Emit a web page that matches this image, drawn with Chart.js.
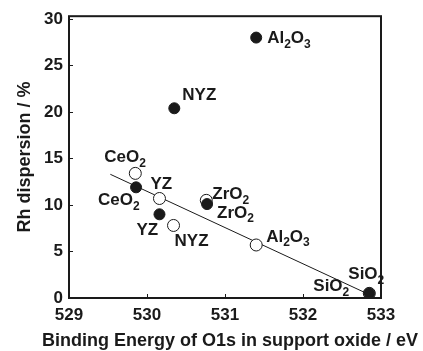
<!DOCTYPE html>
<html>
<head>
<meta charset="utf-8">
<script src="https://cdn.jsdelivr.net/npm/chart.js@4/dist/chart.umd.min.js"></script>
<style>
html,body{margin:0;padding:0;background:#fff}
#wrap{width:423px;height:351px}
</style>
</head>
<body>
<div id="wrap"><canvas id="myChart"></canvas></div>
<script>
// data
var xTicks = [529, 530, 531, 532, 533];
var yTicks = [0, 5, 10, 15, 20, 25, 30];
var xTitle = 'Binding Energy of O1s in support oxide / eV';
var yTitle = 'Rh dispersion / %';

var filledNames = ['Al2O3', 'NYZ', 'CeO2', 'YZ', 'ZrO2', 'SiO2'];
var filledX = [531.40, 530.35, 529.86, 530.16, 530.77, 532.85];
var filledY = [28.0, 20.4, 11.9, 9.0, 10.1, 0.5];

var openNames = ['CeO2', 'YZ', 'ZrO2', 'NYZ', 'Al2O3', 'SiO2'];
var openX = [529.85, 530.16, 530.76, 530.34, 531.40, 532.85];
var openY = [13.4, 10.7, 10.5, 7.8, 5.7, 0.5];

var fitX = [529.53, 532.80];
var fitY = [13.3, 0.56];

// label offsets from each marker (px)
var filledLabelPos = [[11, 1], [8, -13], [-38, 13], [-23, 16], [10, 9], [-21, -19]];
var openLabelPos = [[-31, -16], [-9, -14], [6, -6], [1, 16], [10, -8], [-56, -7]];

var ink = '#1a1a1a';
var fontFam = '"Liberation Sans", Arial, sans-serif';

function pts(xs, ys) {
  return xs.map(function (x, i) { return {x: x, y: ys[i]}; });
}

// draw a formula like Al2O3 with subscript digits
function drawChem(ctx, s, x, y) {
  ctx.textAlign = 'left';
  ctx.textBaseline = 'middle';
  for (var i = 0; i < s.length; i++) {
    var c = s[i];
    if (/[0-9]/.test(c)) {
      ctx.font = 'bold 12px ' + fontFam;
      ctx.fillText(c, x, y + 6);
    } else {
      ctx.font = 'bold 17px ' + fontFam;
      ctx.fillText(c, x, y);
    }
    x += ctx.measureText(c).width;
  }
}

var labelPlugin = {
  id: 'labels',
  afterDatasetsDraw: function (chart) {
    var ctx = chart.ctx;
    ctx.save();
    ctx.fillStyle = ink;
    [[0, filledNames, filledLabelPos], [1, openNames, openLabelPos]].forEach(function (set) {
      var meta = chart.getDatasetMeta(set[0]);
      meta.data.forEach(function (el, i) {
        drawChem(ctx, set[1][i], el.x + set[2][i][0], el.y + set[2][i][1]);
      });
    });
    ctx.restore();
  }
};

var framePlugin = {
  id: 'frame',
  afterDraw: function (chart) {
    var ctx = chart.ctx, a = chart.chartArea;
    var xs = chart.scales.x, ys = chart.scales.y;
    ctx.save();
    ctx.strokeStyle = ink;
    ctx.lineWidth = 1;
    ctx.beginPath();
    xTicks.forEach(function (v) {
      var px = Math.round(xs.getPixelForValue(v)) + 0.5;
      ctx.moveTo(px, a.bottom);
      ctx.lineTo(px, a.bottom - 4);
    });
    yTicks.forEach(function (v) {
      var py = Math.round(ys.getPixelForValue(v)) + 0.5;
      ctx.moveTo(a.left, py);
      ctx.lineTo(a.left + 4, py);
    });
    ctx.stroke();
    ctx.lineWidth = 2;
    ctx.strokeRect(a.left, a.top, a.right - a.left, a.bottom - a.top);
    // x title is wider than the plot area, so draw it here without squeezing
    ctx.fillStyle = ink;
    ctx.font = 'bold 18px ' + fontFam;
    ctx.textAlign = 'center';
    ctx.textBaseline = 'middle';
    ctx.fillText(xTitle, 230, 341);
    ctx.restore();
  }
};

var tickFont = {family: fontFam, size: 17, weight: 'bold'};

new Chart(document.getElementById('myChart'), {
  type: 'scatter',
  data: {
    datasets: [
      {
        label: 'filled',
        data: pts(filledX, filledY),
        pointRadius: 5.5,
        pointBackgroundColor: ink,
        pointBorderColor: ink,
        pointBorderWidth: 1,
        order: 0
      },
      {
        label: 'open',
        data: pts(openX, openY),
        pointRadius: 6,
        pointBackgroundColor: '#fff',
        pointBorderColor: ink,
        pointBorderWidth: 1,
        order: 1
      },
      {
        type: 'line',
        label: 'fit',
        data: pts(fitX, fitY),
        borderColor: ink,
        borderWidth: 1,
        pointRadius: 0,
        fill: false,
        order: 2
      }
    ]
  },
  options: {
    responsive: true,
    maintainAspectRatio: false,
    animation: false,
    events: [],
    layout: {padding: {left: 0, top: 12, right: 42, bottom: 0}},
    plugins: {legend: {display: false}, tooltip: {enabled: false}},
    scales: {
      x: {
        type: 'linear',
        min: 529,
        max: 533,
        afterBuildTicks: function (s) { s.ticks = xTicks.map(function (v) { return {value: v}; }); },
        afterFit: function (s) { s.height = 53; },
        ticks: {font: tickFont, color: ink, padding: 7, maxRotation: 0},
        grid: {display: false, drawTicks: false},
        border: {display: false},
        title: {display: false}
      },
      y: {
        type: 'linear',
        min: 0,
        max: 30.3,
        afterBuildTicks: function (s) { s.ticks = yTicks.map(function (v) { return {value: v}; }); },
        afterFit: function (s) { s.width = 69; },
        ticks: {font: tickFont, color: ink, padding: 6},
        grid: {display: false, drawTicks: false},
        border: {display: false},
        title: {
          display: true,
          text: yTitle,
          font: {family: fontFam, size: 18, weight: 'bold'},
          color: ink,
          padding: {top: 14, bottom: 0}
        }
      }
    }
  },
  plugins: [labelPlugin, framePlugin]
});
</script>
</body>
</html>
